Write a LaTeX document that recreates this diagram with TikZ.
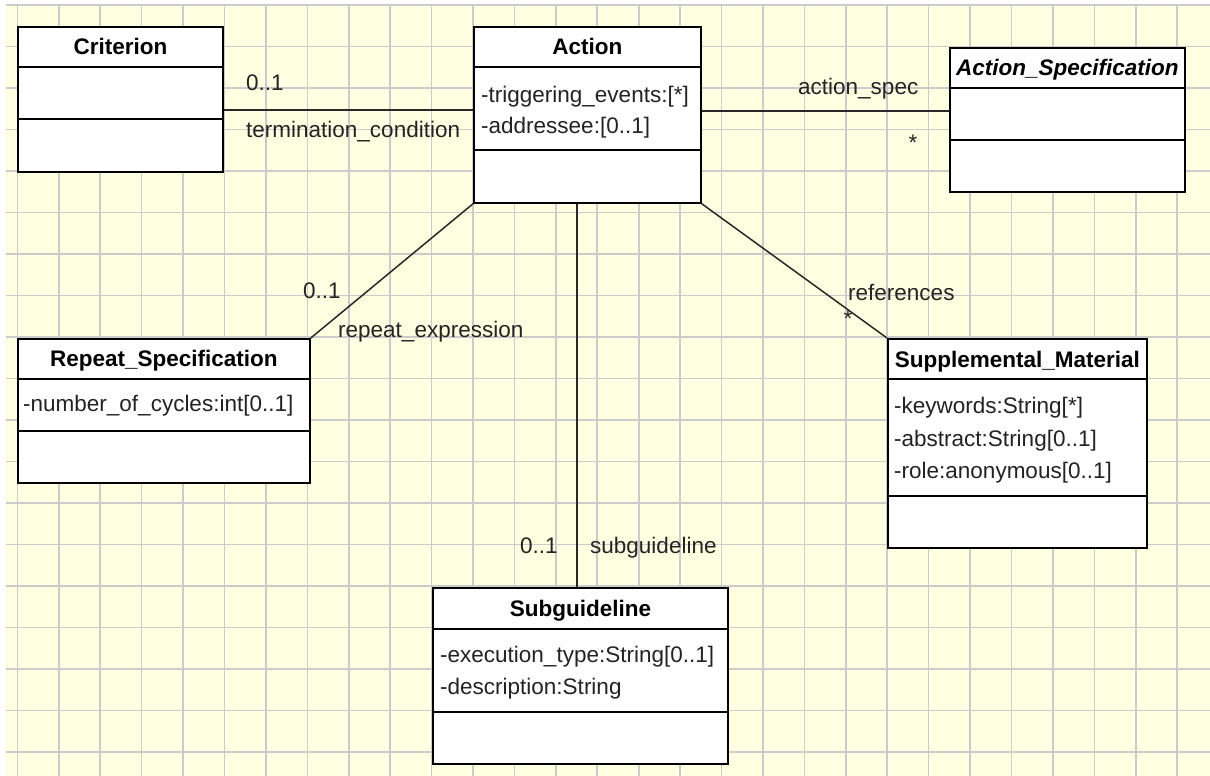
\documentclass[tikz,border=0pt]{standalone}
\usepackage{fontspec}
\setmainfont{Liberation Sans}
\definecolor{paper}{RGB}{255,255,225}
\definecolor{gridgray}{RGB}{203,203,203}
\definecolor{linegray}{RGB}{40,40,40}
\definecolor{labelgray}{RGB}{35,35,35}
\newcommand{\umltext}{\fontsize{22.5}{27}\selectfont}
\begin{document}
\begin{tikzpicture}[x=1pt,y=-1pt,
  classbox/.style={draw=black, fill=white, line width=1.8pt, rectangle, inner sep=0pt, anchor=north west},
  divider/.style={draw=black, line width=1.8pt},
  assoc/.style={draw=linegray, line width=1.5pt},
  gridline/.style={draw=gridgray, line width=1.6pt},
  title/.style={font=\umltext\bfseries, anchor=base, inner sep=0pt},
  attr/.style={font=\umltext, anchor=base west, inner sep=0pt, text=labelgray},
  lbl/.style={font=\umltext, anchor=base west, inner sep=0pt, text=labelgray},
  star/.style={font=\umltext, anchor=base, inner sep=0pt, text=labelgray}]
\useasboundingbox (0,0) rectangle (1210,776);
% squared paper
\fill[paper] (6,5) rectangle (1210,776);
\foreach \i in {0,...,28} \draw[gridline] ({17.4+41.42*\i},5) -- ({17.4+41.42*\i},776);
\foreach \j in {0,...,18} \draw[gridline] (6,{5+41.5*\j}) -- (1210,{5+41.5*\j});

% classes
\node[classbox, minimum width=205pt, minimum height=145pt] (crit) at (17,26) {};
\node[classbox, minimum width=227pt, minimum height=176pt] (act) at (473,26) {};
\node[classbox, minimum width=235pt, minimum height=144pt] (spec) at (949,47) {};
\node[classbox, minimum width=292pt, minimum height=144pt] (rep) at (17,338) {};
\node[classbox, minimum width=259pt, minimum height=209pt] (supp) at (887,338) {};
\node[classbox, minimum width=295pt, minimum height=176pt] (sub) at (432,587) {};

% compartment dividers
\draw[divider] (crit.west |- 0,67) -- (crit.east |- 0,67);
\draw[divider] (crit.west |- 0,119) -- (crit.east |- 0,119);
\draw[divider] (act.west |- 0,67) -- (act.east |- 0,67);
\draw[divider] (act.west |- 0,150) -- (act.east |- 0,150);
\draw[divider] (spec.west |- 0,88) -- (spec.east |- 0,88);
\draw[divider] (spec.west |- 0,140) -- (spec.east |- 0,140);
\draw[divider] (rep.west |- 0,379) -- (rep.east |- 0,379);
\draw[divider] (rep.west |- 0,431) -- (rep.east |- 0,431);
\draw[divider] (supp.west |- 0,379) -- (supp.east |- 0,379);
\draw[divider] (supp.west |- 0,496) -- (supp.east |- 0,496);
\draw[divider] (sub.west |- 0,629) -- (sub.east |- 0,629);
\draw[divider] (sub.west |- 0,712) -- (sub.east |- 0,712);

% class names
\node[title] (critName) at (crit.north |- 0,55) {Criterion};
\node[title] (actName) at (act.north |- 0,55) {Action};
\node[title, font=\umltext\bfseries\itshape] (specName) at (spec.north |- 0,75.5) {Action\_Specification};
\node[title] (repName) at (rep.north |- 0,366.5) {Repeat\_Specification};
\node[title] (suppName) at (supp.north |- 0,367) {Supplemental\_Material};
\node[title] (subName) at (sub.north |- 0,616.5) {Subguideline};

% attributes
\node[attr] (actAttrA) at (481,102) {-triggering\_events:[*]};
\node[attr] (actAttrB) at (481,133) {-addressee:[0..1]};
\node[attr] (repAttr) at (23,411) {-number\_of\_cycles:int[0..1]};
\node[attr] (suppAttrA) at (894,413) {-keywords:String[*]};
\node[attr] (suppAttrB) at (894,446) {-abstract:String[0..1]};
\node[attr] (suppAttrC) at (894,478) {-role:anonymous[0..1]};
\node[attr] (subAttrA) at (440,662) {-execution\_type:String[0..1]};
\node[attr] (subAttrB) at (440,694) {-description:String};

% associations
\draw[assoc] (crit.east |- 0,110) -- (act.west |- 0,110);
\draw[assoc] (act.east |- 0,111) -- (spec.west |- 0,111);
\draw[assoc] (act.south west) -- (rep.north east);
\draw[assoc] (act.south east) -- (supp.north west);
\draw[assoc] (act.south -| 577,0) -- (sub.north -| 577,0);

% association ends
\node[lbl] (critMult) at (246,90) {0..1};
\node[lbl] (critRole) at (246,137) {termination\_condition};
\node[lbl] (specRole) at (798,95) {action\_spec};
\node[star] (specMult) at (913,150) {*};
\node[lbl] (repMult) at (303,298) {0..1};
\node[lbl] (repRole) at (338,337) {repeat\_expression};
\node[lbl] (suppRole) at (848,300) {references};
\node[star] (suppMult) at (848,326) {*};
\node[lbl] (subMult) at (520,553) {0..1};
\node[lbl] (subRole) at (590,553) {subguideline};
\end{tikzpicture}
\end{document}
